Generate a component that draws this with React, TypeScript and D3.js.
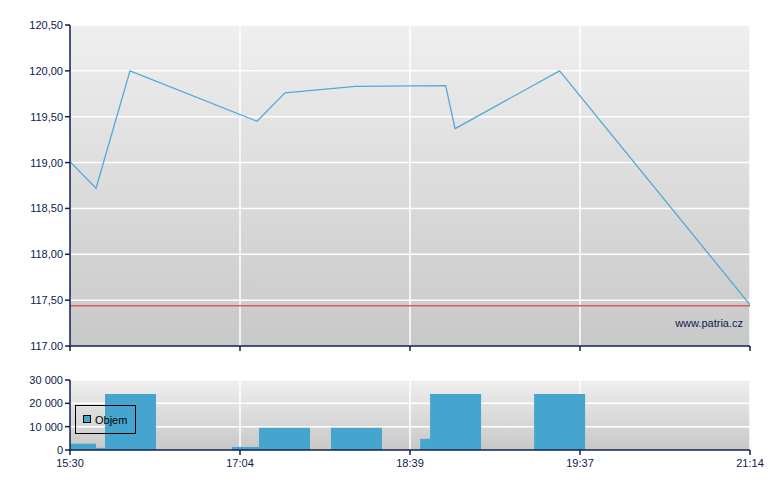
import React from "react";
import * as d3 from "d3";

// x positions are in "tick slot" units: 0 = 15:30, 1 = 17:04, 2 = 18:39, 3 = 19:37, 4 = 21:14
const timeLabels = ["15:30", "17:04", "18:39", "19:37", "21:14"];
const priceX = [0, 0.153, 0.353, 1.1, 1.265, 1.68, 2.21, 2.265, 2.88, 4];
const priceY = [119.01, 118.72, 120.0, 119.45, 119.76, 119.83, 119.84, 119.37, 120.0, 117.45];
const refPrice = 117.44;
const priceTicks = [117, 117.5, 118, 118.5, 119, 119.5, 120, 120.5];
const priceTickLabels = ["117.00", "117,50", "118,00", "118,50", "119,00", "119,50", "120,00", "120,50"];

const volStart = [0, 0.153, 0.206, 0.953, 1.112, 1.535, 2.06, 2.118, 2.73];
const volEnd = [0.153, 0.206, 0.506, 1.112, 1.412, 1.835, 2.118, 2.418, 3.03];
const volValue = [2700, 900, 24000, 1300, 9500, 9500, 4800, 24000, 24000];
const volTicks = [0, 10000, 20000, 30000];
const volTickLabels = ["0", "10 000", "20 000", "30 000"];

const navy = "#0c2150";
const font = "'Liberation Sans', Arial, sans-serif";

export default function App() {
  const left = 70, right = 750;
  const mTop = 25, mBot = 346;
  const vTop = 380, vBot = 450;
  const x = d3.scaleLinear().domain([0, 4]).range([left, right]);
  const y = d3.scaleLinear().domain([117, 120.5]).range([mBot, mTop]);
  const yv = d3.scaleLinear().domain([0, 30000]).range([vBot, vTop]);
  const line = d3.line<number>().x((_, i) => x(priceX[i])).y((d) => y(d))(priceY) || "";
  const tickIdx = d3.range(timeLabels.length);

  return (
    <svg width={780} height={490} style={{ position: "absolute", left: 0, top: 0 }} fontFamily={font}>
      <defs>
        <linearGradient id="bg" x1="0" y1="0" x2="0" y2="1">
          <stop offset="0" stopColor="#efefef" />
          <stop offset="1" stopColor="#c8c8c8" />
        </linearGradient>
        <clipPath id="mclip">
          <rect x={left} y={mTop} width={right - left} height={mBot - mTop} />
        </clipPath>
      </defs>
      <rect x={0} y={0} width={780} height={490} fill="#fff" />

      {/* main panel */}
      <rect x={left} y={mTop} width={right - left} height={mBot - mTop} fill="url(#bg)" />
      {priceTicks.slice(1).map((t) => (
        <line key={t} x1={left} x2={right} y1={y(t)} y2={y(t)} stroke="#fff" strokeWidth={1.5} />
      ))}
      {tickIdx.slice(1).map((i) => (
        <line key={i} x1={x(i)} x2={x(i)} y1={mTop} y2={mBot} stroke="#fff" strokeWidth={1.5} />
      ))}
      <line x1={left} x2={right} y1={y(refPrice)} y2={y(refPrice)} stroke="#e05a5a" strokeWidth={1.5} />
      <path d={line} fill="none" stroke="#52aad6" strokeWidth={1.3} clipPath="url(#mclip)" />
      <text x={743} y={327} textAnchor="end" fontSize={11} fill={navy}>www.patria.cz</text>

      <line x1={left} x2={left} y1={mTop} y2={mBot} stroke={navy} strokeWidth={1.5} />
      <line x1={left} x2={right} y1={mBot} y2={mBot} stroke={navy} strokeWidth={1.5} />
      {priceTicks.map((t, i) => (
        <g key={t}>
          <line x1={left - 5} x2={left} y1={y(t)} y2={y(t)} stroke={navy} strokeWidth={1.5} />
          <text x={63} y={y(t) + 4} textAnchor="end" fontSize={11} fill={navy}>{priceTickLabels[i]}</text>
        </g>
      ))}
      {tickIdx.map((i) => (
        <line key={i} x1={x(i)} x2={x(i)} y1={mBot} y2={mBot + 5} stroke={navy} strokeWidth={1.5} />
      ))}

      {/* volume panel */}
      <rect x={left} y={vTop} width={right - left} height={vBot - vTop} fill="url(#bg)" />
      {volTicks.slice(1).map((t) => (
        <line key={t} x1={left} x2={right} y1={yv(t)} y2={yv(t)} stroke="#fff" strokeWidth={1.5} />
      ))}
      {tickIdx.slice(1).map((i) => (
        <line key={i} x1={x(i)} x2={x(i)} y1={vTop} y2={vBot} stroke="#fff" strokeWidth={1.5} />
      ))}
      {volValue.map((v, i) => (
        <rect key={i} x={x(volStart[i])} y={yv(v)} width={x(volEnd[i]) - x(volStart[i])} height={vBot - yv(v)} fill="#46a5ce" />
      ))}
      <line x1={left} x2={left} y1={vTop} y2={vBot} stroke={navy} strokeWidth={1.5} />
      <line x1={left} x2={right} y1={vBot} y2={vBot} stroke={navy} strokeWidth={1.5} />
      {volTicks.map((t, i) => (
        <g key={t}>
          <line x1={left - 5} x2={left} y1={yv(t)} y2={yv(t)} stroke={navy} strokeWidth={1.5} />
          <text x={63} y={yv(t) + 4} textAnchor="end" fontSize={11} fill={navy}>{volTickLabels[i]}</text>
        </g>
      ))}
      {tickIdx.map((i) => (
        <g key={i}>
          <line x1={x(i)} x2={x(i)} y1={vBot} y2={vBot + 5} stroke={navy} strokeWidth={1.5} />
          <text x={x(i)} y={467} textAnchor="middle" fontSize={11} fill={navy}>{timeLabels[i]}</text>
        </g>
      ))}

      {/* legend */}
      <rect x={75.5} y={405.5} width={60} height={28} fill="none" stroke="#000" strokeWidth={1} />
      <rect x={83.5} y={415.5} width={7} height={7} fill="#46a5ce" stroke="#000" strokeWidth={1} />
      <text x={95} y={424} fontSize={11} fill="#000">Objem</text>
    </svg>
  );
}
